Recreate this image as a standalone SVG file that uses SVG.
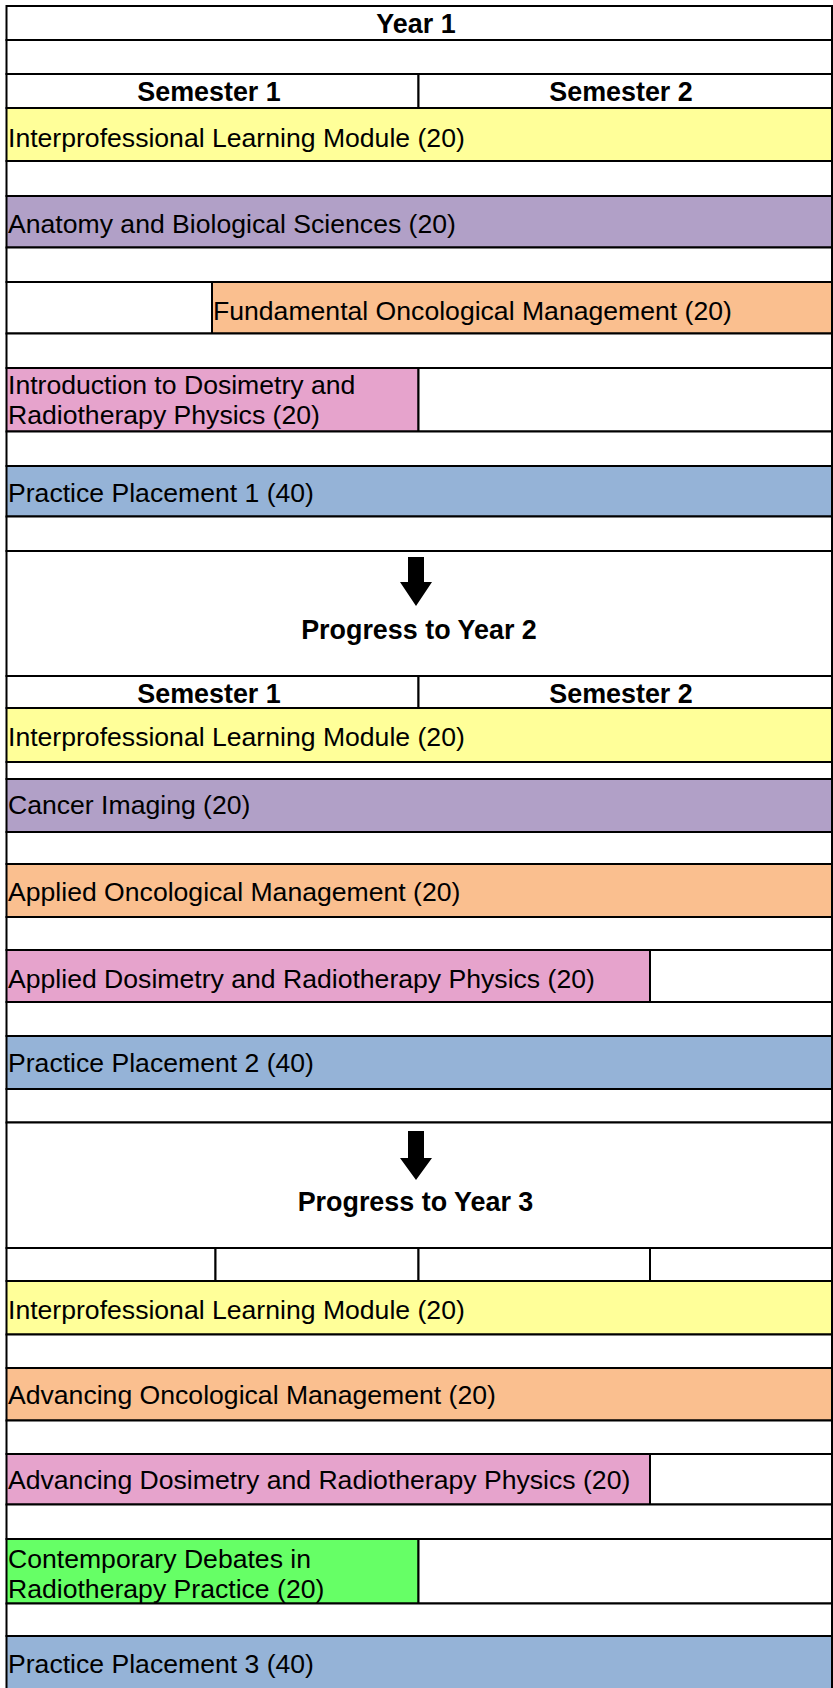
<svg xmlns="http://www.w3.org/2000/svg" width="833" height="1688" viewBox="0 0 833 1688">
<style>
.c{stroke:#000;stroke-width:2;fill:#fff}
.yel{fill:#FFFF99}
.pur{fill:#B1A0C7}
.ora{fill:#FABF8F}
.pnk{fill:#E6A3CC}
.blu{fill:#95B3D7}
.grn{fill:#66FF66}
.t{font-family:"Liberation Sans",Arial,sans-serif;font-size:26.6px;fill:#000}
.b{font-weight:bold;text-anchor:middle;font-size:26.9px}
.arr{fill:#000}
</style>
<rect x="0" y="0" width="833" height="1688" fill="#fff"/>

<g id="year1-header"><rect class="c" x="6.5" y="6" width="825.5" height="34"/><text class="t b" x="416" y="33">Year 1</text></g>
<g id="gap-1"><rect class="c" x="6.5" y="40" width="825.5" height="34"/></g>
<g id="y1-semesters"><rect class="c" x="6.5" y="74" width="412" height="34"/><rect class="c" x="418.5" y="74" width="413.5" height="34"/><text class="t b" x="209" y="101">Semester 1</text><text class="t b" x="621" y="101">Semester 2</text></g>
<g id="y1-interprofessional"><rect class="c yel" x="6.5" y="108" width="825.5" height="53"/><text class="t" x="8" y="146.5">Interprofessional Learning Module (20)</text></g>
<g id="gap-2"><rect class="c" x="6.5" y="161" width="825.5" height="35"/></g>
<g id="y1-anatomy"><rect class="c pur" x="6.5" y="196" width="825.5" height="51.5"/><text class="t" x="8" y="232.5">Anatomy and Biological Sciences (20)</text></g>
<g id="gap-3"><rect class="c" x="6.5" y="247.5" width="825.5" height="34.5"/></g>
<g id="y1-fundamental"><rect class="c" x="6.5" y="282" width="205.5" height="51.5"/><rect class="c ora" x="212" y="282" width="620" height="51.5"/><text class="t" x="213" y="319.5">Fundamental Oncological Management (20)</text></g>
<g id="gap-4"><rect class="c" x="6.5" y="333.5" width="825.5" height="34.5"/></g>
<g id="y1-dosimetry"><rect class="c pnk" x="6.5" y="368" width="412" height="63.5"/><rect class="c" x="418.5" y="368" width="413.5" height="63.5"/><text class="t" x="8" y="394">Introduction to Dosimetry and</text><text class="t" x="8" y="424">Radiotherapy Physics (20)</text></g>
<g id="gap-5"><rect class="c" x="6.5" y="431.5" width="825.5" height="34.5"/></g>
<g id="y1-placement"><rect class="c blu" x="6.5" y="466" width="825.5" height="50.5"/><text class="t" x="8" y="501.5">Practice Placement 1 (40)</text></g>
<g id="gap-6"><rect class="c" x="6.5" y="516.5" width="825.5" height="34.5"/></g>
<g id="progress-year2"><rect class="c" x="6.5" y="551" width="825.5" height="125"/><text class="t b" x="419" y="639">Progress to Year 2</text></g>
<g id="y2-semesters"><rect class="c" x="6.5" y="676" width="412" height="32"/><rect class="c" x="418.5" y="676" width="413.5" height="32"/><text class="t b" x="209" y="703">Semester 1</text><text class="t b" x="621" y="703">Semester 2</text></g>
<g id="y2-interprofessional"><rect class="c yel" x="6.5" y="708" width="825.5" height="54"/><text class="t" x="8" y="746">Interprofessional Learning Module (20)</text></g>
<g id="gap-7"><rect class="c" x="6.5" y="762" width="825.5" height="17"/></g>
<g id="y2-cancer-imaging"><rect class="c pur" x="6.5" y="779" width="825.5" height="53"/><text class="t" x="8" y="814">Cancer Imaging (20)</text></g>
<g id="gap-8"><rect class="c" x="6.5" y="832" width="825.5" height="32"/></g>
<g id="y2-applied-oncology"><rect class="c ora" x="6.5" y="864" width="825.5" height="53"/><text class="t" x="8" y="901">Applied Oncological Management (20)</text></g>
<g id="gap-9"><rect class="c" x="6.5" y="917" width="825.5" height="33"/></g>
<g id="y2-applied-dosimetry"><rect class="c pnk" x="6.5" y="950" width="643.5" height="52"/><rect class="c" x="650" y="950" width="182" height="52"/><text class="t" x="8" y="988">Applied Dosimetry and Radiotherapy Physics (20)</text></g>
<g id="gap-10"><rect class="c" x="6.5" y="1002" width="825.5" height="34"/></g>
<g id="y2-placement"><rect class="c blu" x="6.5" y="1036" width="825.5" height="53"/><text class="t" x="8" y="1072">Practice Placement 2 (40)</text></g>
<g id="gap-11"><rect class="c" x="6.5" y="1089" width="825.5" height="33.5"/></g>
<g id="progress-year3"><rect class="c" x="6.5" y="1122.5" width="825.5" height="125.5"/><text class="t b" x="415.5" y="1211">Progress to Year 3</text></g>
<g id="y3-quarters"><rect class="c" x="6.5" y="1248" width="209" height="33"/><rect class="c" x="215.5" y="1248" width="203" height="33"/><rect class="c" x="418.5" y="1248" width="231.5" height="33"/><rect class="c" x="650" y="1248" width="182" height="33"/></g>
<g id="y3-interprofessional"><rect class="c yel" x="6.5" y="1281" width="825.5" height="53.5"/><text class="t" x="8" y="1319">Interprofessional Learning Module (20)</text></g>
<g id="gap-12"><rect class="c" x="6.5" y="1334.5" width="825.5" height="33.5"/></g>
<g id="y3-advancing-oncology"><rect class="c ora" x="6.5" y="1368" width="825.5" height="52.5"/><text class="t" x="8" y="1404">Advancing Oncological Management (20)</text></g>
<g id="gap-13"><rect class="c" x="6.5" y="1420.5" width="825.5" height="33.5"/></g>
<g id="y3-advancing-dosimetry"><rect class="c pnk" x="6.5" y="1454" width="643.5" height="50.5"/><rect class="c" x="650" y="1454" width="182" height="50.5"/><text class="t" x="8" y="1489">Advancing Dosimetry and Radiotherapy Physics (20)</text></g>
<g id="gap-14"><rect class="c" x="6.5" y="1504.5" width="825.5" height="34.5"/></g>
<g id="y3-contemporary-debates"><rect class="c grn" x="6.5" y="1539" width="412" height="64.5"/><rect class="c" x="418.5" y="1539" width="413.5" height="64.5"/><text class="t" x="8" y="1568">Contemporary Debates in</text><text class="t" x="8" y="1598">Radiotherapy Practice (20)</text></g>
<g id="gap-15"><rect class="c" x="6.5" y="1603.5" width="825.5" height="32.5"/></g>
<g id="y3-placement"><rect class="c blu" x="6.5" y="1636" width="825.5" height="60"/><text class="t" x="8" y="1673">Practice Placement 3 (40)</text></g>

<g id="connectors">
<polygon class="arr" points="408,557 424,557 424,582 432,582 416,606 400,582 408,582"/>
<polygon class="arr" points="408,1131 424,1131 424,1158 432,1158 416,1180 400,1158 408,1158"/>
</g>
</svg>
